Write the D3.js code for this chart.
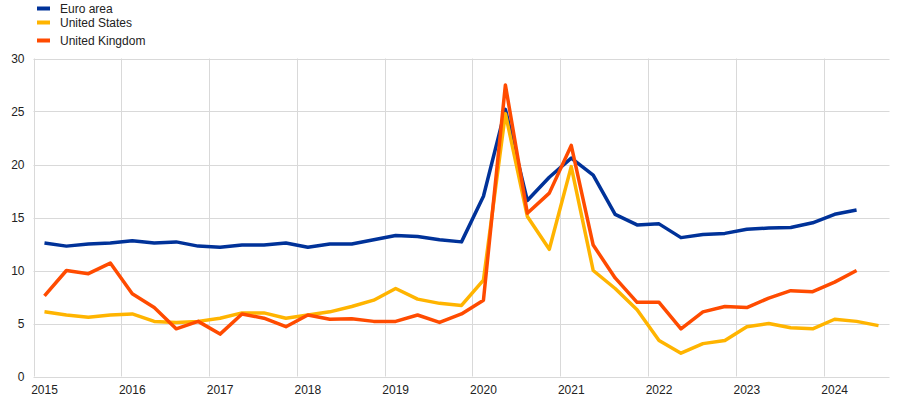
<!DOCTYPE html>
<html lang="en">
<head>
  <meta charset="UTF-8">
  <script src="https://d3js.org/d3.v7.min.js"></script>
  <title>Euro area, United States, United Kingdom</title>
  <style>
    body { margin: 0; background: #fff; }
    svg { font-family: Arial, "Liberation Sans", sans-serif; }
    .grid line { stroke: #d9d9d9; stroke-width: 1; }
    .tick text { fill: #222; font-size: 12px; }
    .legend text { fill: #222; font-size: 12px; }
  </style>
</head>
<body>
  <svg></svg>
  <script>
    const WIDTH = 903
    const HEIGHT = 401

    // quarters 2015Q1 .. 2024Q3
    const years = d3.range(2015, 2025)
    const quarters = []
    years.forEach((y) => [1, 2, 3, 4].forEach((q) => quarters.push(y + 'Q' + q)))
    quarters.splice(39)

    const yTicks = [0, 5, 10, 15, 20, 25, 30]

    const euroArea = [12.6, 12.3, 12.5, 12.6, 12.8, 12.6, 12.7, 12.3, 12.2, 12.4, 12.4, 12.6,
      12.2, 12.5, 12.5, 12.9, 13.3, 13.2, 12.9, 12.7, 17.0, 25.2, 16.6, 18.8,
      20.6, 19.0, 15.3, 14.3, 14.4, 13.1, 13.4, 13.5, 13.9, 14.0, 14.05, 14.5,
      15.3, 15.7]
    const unitedStates = [6.1, 5.8, 5.6, 5.8, 5.9, 5.2, 5.1, 5.2, 5.5, 6.0, 6.0, 5.5,
      5.8, 6.1, 6.6, 7.2, 8.3, 7.3, 6.9, 6.7, 9.1, 24.8, 15.1, 12.0,
      19.8, 10.0, 8.3, 6.3, 3.4, 2.2, 3.1, 3.4, 4.7, 5.0, 4.6, 4.5,
      5.4, 5.2, 4.8]
    const unitedKingdom = [7.6, 10.0, 9.7, 10.7, 7.8, 6.5, 4.5, 5.2, 4.0, 5.9, 5.5, 4.7,
      5.8, 5.4, 5.45, 5.2, 5.2, 5.8, 5.1, 5.9, 7.2, 27.5, 15.4, 17.3,
      21.8, 12.4, 9.3, 7.0, 7.0, 4.5, 6.1, 6.6, 6.5, 7.4, 8.1, 8.0,
      8.9, 10.0]

    const series = [
      { name: 'Euro area', color: '#003299', values: euroArea },
      { name: 'United States', color: '#ffb400', values: unitedStates },
      { name: 'United Kingdom', color: '#ff4b00', values: unitedKingdom }
    ]

    const margin = { top: 58.5, right: 13.5, bottom: 24.5, left: 33.5 }

    const svg = d3.select('svg')
      .attr('width', WIDTH)
      .attr('height', HEIGHT)

    const x = d3.scaleBand()
      .domain(quarters)
      .range([margin.left, WIDTH - margin.right])

    const y = d3.scaleLinear()
      .domain([0, 30])
      .range([HEIGHT - margin.bottom, margin.top])

    const cx = (i) => x(quarters[i]) + x.bandwidth() / 2

    // horizontal gridlines
    const grid = svg.append('g').attr('class', 'grid')
    grid.selectAll('.h')
      .data(yTicks)
      .enter().append('line')
      .attr('x1', margin.left)
      .attr('x2', WIDTH - margin.right)
      .attr('y1', (d) => Math.round(y(d)) + 0.5)
      .attr('y2', (d) => Math.round(y(d)) + 0.5)

    // vertical gridlines at year boundaries
    const yearStarts = quarters.filter((q) => q.endsWith('Q1'))
    grid.selectAll('.v')
      .data(yearStarts)
      .enter().append('line')
      .attr('x1', (d) => Math.round(x(d)) + 0.5)
      .attr('x2', (d) => Math.round(x(d)) + 0.5)
      .attr('y1', y(30))
      .attr('y2', y(0))

    // y axis labels
    const yAxis = svg.append('g')
      .attr('transform', `translate(${margin.left},0)`)
      .call(d3.axisLeft(y).tickValues(yTicks).tickSize(0).tickPadding(9))
    yAxis.select('.domain').remove()

    // x axis labels at Q1 of each year
    const xAxis = svg.append('g')
      .attr('transform', `translate(0,${HEIGHT - margin.bottom})`)
      .call(d3.axisBottom(x).tickValues(yearStarts).tickSize(0).tickPadding(9)
        .tickFormat((d) => d.slice(0, 4)))
    xAxis.select('.domain').remove()

    // lines
    const line = d3.line()
      .defined((d) => d != null)
      .x((d, i) => cx(i))
      .y((d) => y(d))

    svg.append('g')
      .selectAll('path')
      .data(series)
      .enter().append('path')
      .attr('fill', 'none')
      .attr('stroke', (d) => d.color)
      .attr('stroke-width', 3.5)
      .attr('stroke-linejoin', 'round')
      .attr('d', (d) => line(d.values))

    // legend
    const legendY = [8.5, 22.5, 40.5]
    const legend = svg.append('g').attr('class', 'legend')
      .selectAll('g')
      .data(series)
      .enter().append('g')
      .attr('transform', (d, i) => `translate(37,${legendY[i]})`)
    legend.append('rect')
      .attr('x', 0)
      .attr('y', -2)
      .attr('width', 13)
      .attr('height', 4)
      .attr('fill', (d) => d.color)
    legend.append('text')
      .attr('x', 23)
      .attr('dy', '0.35em')
      .text((d) => d.name)
  </script>
</body>
</html>
